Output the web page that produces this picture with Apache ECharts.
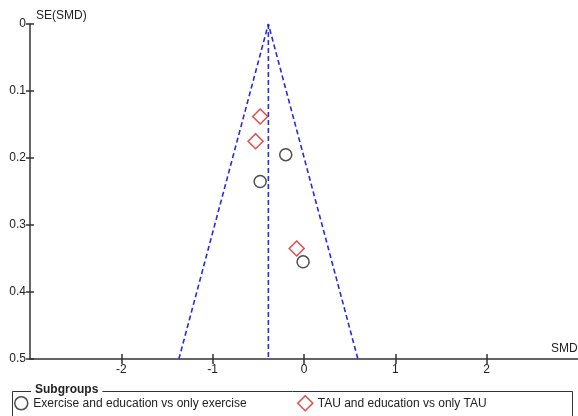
<!DOCTYPE html>
<html><head><meta charset="utf-8">
<script src="https://cdn.jsdelivr.net/npm/echarts@6/dist/echarts.min.js"></script>
<style>html,body{margin:0;padding:0;background:#fff}#c{width:578px;height:416px}</style>
</head><body><div id="c"></div>
<script>
const xTicks = [-2, -1, 0, 1, 2];
const yTicks = [0, 0.1, 0.2, 0.3, 0.4, 0.5];
const seriesNames = ['Exercise and education vs only exercise', 'TAU and education vs only TAU'];
const exerciseSMD = [-0.20, -0.48, -0.01];
const exerciseSE = [0.195, 0.235, 0.355];
const tauSMD = [-0.48, -0.53, -0.08];
const tauSE = [0.138, 0.175, 0.335];
const pooledSMD = -0.39;
const funnelSMD = [-1.37, -0.39, 0.59];
const funnelSE = [0.5, 0, 0.5];

const font = '"Liberation Sans", Arial, sans-serif';
const blue = '#2a2ae0';
const dark = '#222';
const red = '#d42020';
const zip = (a, b) => a.map((v, i) => [v, b[i]]);

const chart = echarts.init(document.getElementById('c'), null, {renderer: 'canvas'});
const axisLineStyle = {color: '#333', width: 1.5};
const gridBox = {left: 30, top: 24, right: 0, bottom: 57};
chart.setOption({
  animation: false,
  grid: [Object.assign({}, gridBox), Object.assign({}, gridBox)],
  xAxis: [{
    gridIndex: 0, type: 'value', min: -3, max: 3, interval: 1,
    axisLine: {onZero: false, lineStyle: axisLineStyle},
    axisTick: {show: true, length: 5, customValues: xTicks, lineStyle: axisLineStyle},
    axisLabel: {customValues: xTicks, color: dark, fontSize: 12, fontFamily: font, margin: 5},
    splitLine: {show: false}
  }, {
    gridIndex: 1, type: 'value', min: -3, max: 3, interval: 1, position: 'bottom',
    axisLine: {show: false, onZero: false},
    axisTick: {show: true, inside: true, length: 5, customValues: xTicks, lineStyle: axisLineStyle},
    axisLabel: {show: false}, splitLine: {show: false}
  }],
  yAxis: [{
    gridIndex: 0, type: 'value', min: 0, max: 0.5, interval: 0.1, inverse: true,
    axisLine: {onZero: false, lineStyle: axisLineStyle},
    axisTick: {show: true, length: 4, customValues: yTicks, lineStyle: axisLineStyle},
    axisLabel: {customValues: yTicks, color: dark, fontSize: 12, fontFamily: font, margin: 4,
      formatter: v => String(Math.round(v * 10) / 10)},
    splitLine: {show: false}
  }, {
    gridIndex: 1, type: 'value', min: 0, max: 0.5, interval: 0.1, inverse: true, position: 'left',
    axisLine: {show: false, onZero: false},
    axisTick: {show: true, inside: true, length: 4, customValues: yTicks, lineStyle: axisLineStyle},
    axisLabel: {show: false}, splitLine: {show: false}
  }],
  legend: [{
    left: 14, top: 396, padding: 0, itemWidth: 14, itemHeight: 13,
    textStyle: {color: dark, fontSize: 12, fontFamily: font},
    data: [{name: seriesNames[0], icon: 'circle',
      itemStyle: {color: '#fff', borderColor: dark, borderWidth: 1.5}}]
  }, {
    left: 297, top: 395, padding: 0, itemWidth: 15, itemHeight: 15,
    textStyle: {color: dark, fontSize: 12, fontFamily: font},
    data: [{name: seriesNames[1], icon: 'diamond',
      itemStyle: {color: '#fff', borderColor: red, borderWidth: 1.5}}]
  }],
  graphic: [
    {type: 'rect', shape: {x: 12.5, y: 391.5, width: 560, height: 60},
      style: {fill: 'none', stroke: '#333', lineWidth: 1}, silent: true, z: 0},
    {type: 'text', x: 31, y: 384, style: {text: 'Subgroups', fill: dark,
      font: 'bold 12px ' + font, backgroundColor: '#fff', padding: [0, 4]}, z: 5},
    {type: 'text', x: 36, y: 10, style: {text: 'SE(SMD)', fill: dark, font: '12px ' + font}},
    {type: 'text', x: 551, y: 343, style: {text: 'SMD', fill: dark, font: '12px ' + font}}
  ],
  series: [{
    name: 'Funnel', type: 'line', data: zip(funnelSMD, funnelSE),
    symbol: 'none', silent: true,
    lineStyle: {color: blue, width: 1.6, type: [5, 3]}
  }, {
    name: 'Pooled', type: 'line', data: [[pooledSMD, 0], [pooledSMD, 0.5]],
    symbol: 'none', silent: true,
    lineStyle: {color: blue, width: 1.6, type: [5, 3]}
  }, {
    name: seriesNames[0], type: 'scatter', data: zip(exerciseSMD, exerciseSE),
    symbol: 'circle', symbolSize: 12, z: 5,
    itemStyle: {color: 'rgba(255,255,255,0)', borderColor: dark, borderWidth: 1.5}
  }, {
    name: seriesNames[1], type: 'scatter', data: zip(tauSMD, tauSE),
    symbol: 'diamond', symbolSize: 15, z: 5,
    itemStyle: {color: 'rgba(255,255,255,0)', borderColor: red, borderWidth: 1.5}
  }]
});
</script></body></html>
